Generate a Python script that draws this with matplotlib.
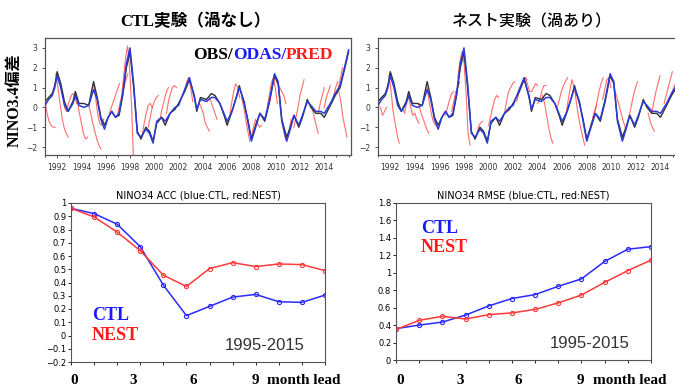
import matplotlib
matplotlib.use("Agg")
import matplotlib.pyplot as plt
import numpy as np

# ---- time series (top panels) ----
obs_year = [1991.0, 1991.3, 1991.6, 1991.8, 1992.0, 1992.3, 1992.6, 1992.9, 1993.3, 1993.5,
            1993.8, 1994.2, 1994.6, 1995.0, 1995.3, 1995.6, 1995.9, 1996.2, 1996.5, 1996.8,
            1997.1, 1997.4, 1997.7, 1998.0, 1998.3, 1998.6, 1998.9, 1999.3, 1999.6, 1999.9,
            2000.2, 2000.6, 2000.9, 2001.3, 2001.7, 2002.0, 2002.5, 2002.9, 2003.3, 2003.5,
            2003.8, 2004.3, 2004.7, 2005.0, 2005.4, 2005.8, 2006.0, 2006.4, 2006.8, 2007.0,
            2007.4, 2007.7, 2008.0, 2008.4, 2008.7, 2009.1, 2009.5, 2009.9, 2010.2, 2010.5,
            2010.9, 2011.2, 2011.5, 2011.9, 2012.2, 2012.6, 2012.9, 2013.3, 2013.7, 2014.0,
            2014.5, 2014.9, 2015.3, 2015.7, 2016.0]
obs_val = [0.3, 0.5, 0.7, 1.1, 1.8, 1.2, 0.3, -0.2, 0.3, 0.8,
           0.2, 0.2, 0.1, 1.3, 0.5, -0.5, -0.9, -0.5, -0.2, -0.5,
           -0.4, 0.6, 2.0, 2.8, 1.0, -1.2, -1.6, -1.0, -1.2, -1.7,
           -0.8, -0.5, -0.9, -0.3, -0.1, 0.2, 0.8, 1.4, 0.6, -0.2,
           0.5, 0.4, 0.7, 0.6, 0.2, -0.5, -0.9, -0.2, 0.6, 1.1,
           0.2, -0.6, -1.6, -0.8, -0.3, -0.7, 0.3, 1.6, 1.2, -0.6,
           -1.5, -1.0, -0.4, -1.0, -0.5, 0.4, 0.0, -0.3, -0.3, -0.5,
           0.1, 0.6, 1.0, 2.0, 2.8]
odas_val = [0.1, 0.4, 0.6, 1.0, 1.6, 1.0, 0.1, -0.2, 0.2, 0.6,
            0.1, 0.0, 0.1, 0.9, 0.4, -0.6, -1.1, -0.5, -0.2, -0.5,
            -0.3, 0.7, 2.2, 3.0, 1.2, -1.3, -1.5, -1.1, -1.3, -1.8,
            -0.7, -0.5, -0.7, -0.3, 0.0, 0.1, 0.9, 1.5, 0.5, -0.1,
            0.4, 0.3, 0.5, 0.5, 0.2, -0.4, -0.7, -0.2, 0.6, 1.0,
            0.3, -0.7, -1.7, -0.9, -0.3, -0.6, 0.4, 1.7, 1.3, -0.7,
            -1.7, -1.1, -0.4, -0.9, -0.4, 0.3, 0.1, -0.2, -0.2, -0.3,
            0.2, 0.7, 1.1, 2.1, 2.9]

# forecast segments: (start year, values every 2 months)
pred_ctl = [
    (1991.0, [0.3, -0.3, -0.7, -0.9, -1.0, -1.0]),
    (1991.9, [1.7, 1.0, 0.2, -0.5, -1.0, -1.3, -1.5]),
    (1992.6, [0.0, -0.2, 0.2, 0.5, 0.7, 0.6, 0.2]),
    (1993.5, [0.8, 0.3, -0.3, -0.8, -1.3, -1.6, -1.5]),
    (1994.6, [0.1, -0.3, -0.8, -1.2, -1.6, -1.9, -2.1]),
    (1995.0, [1.2, 0.5, -0.3, -0.8, -0.9, -0.6]),
    (1996.3, [-0.3, 0.0, 0.3, 0.6, 0.9, 1.2]),
    (1997.0, [-0.3, 0.2, 0.6, 1.0, 1.4, 1.7]),
    (1997.3, [0.5, 1.5, 2.5, 3.1, 2.0, 0.0, -2.8]),
    (1999.0, [-1.4, -0.8, -0.3, 0.1, 0.2, 0.0]),
    (1999.5, [-1.0, -0.5, 0.0, 0.3, 0.5, 0.6]),
    (2000.5, [-0.5, 0.0, 0.4, 0.8, 1.0]),
    (2001.0, [-0.3, 0.3, 0.7, 1.0, 1.1, 1.0]),
    (2002.5, [0.8, 1.3, 1.5, 1.0, 0.3]),
    (2003.7, [0.2, 0.0, -0.3, -0.8, -1.0, -1.2]),
    (2004.5, [0.5, 0.3, 0.0, -0.3, -0.6]),
    (2006.2, [-0.5, 0.2, 0.8, 1.2, 1.0, 0.5]),
    (2007.2, [0.5, 0.0, -0.6, -1.2, -1.7]),
    (2008.0, [-1.5, -1.0, -0.6, -0.8, -1.0, -0.9]),
    (2009.3, [0.0, 0.6, 1.2, 1.5, 1.0, 0.2]),
    (2010.0, [1.4, 1.2, 1.0, 0.8, 0.6, 0.2]),
    (2010.6, [-1.0, -1.5, -1.7, -1.2, -0.6]),
    (2011.5, [-1.0, -0.5, 0.0, 0.6, 1.0, 1.4]),
    (2013.0, [0.0, -0.5, -0.9, -1.3]),
    (2013.5, [-0.3, 0.2, 0.6, 1.0]),
    (2014.0, [0.0, 0.5, 0.8, 1.1]),
    (2014.6, [0.2, 0.6, 1.0, 1.3]),
    (2015.0, [0.7, 1.0, 1.5, 2.0]),
    (2015.2, [0.8, 0.3, -0.5, -1.0, -1.5]),
]
pred_nest = [
    (1991.2, [0.0, -0.4, -0.2, 0.0]),
    (1991.9, [1.6, 0.8, -0.2, -0.8, -1.4, -1.8]),
    (1993.0, [0.0, -0.3, 0.3, 0.6, 0.4]),
    (1993.5, [0.5, 0.0, -0.4, -0.3, -0.6, -0.8]),
    (1994.3, [0.2, -0.2, -0.5, -0.8, -1.1, -1.3]),
    (1995.0, [1.0, 0.3, -0.3, -0.7, -0.9]),
    (1996.5, [-0.4, 0.0, 0.4, 0.7, 0.8]),
    (1997.0, [-0.2, 0.3, 0.8, 1.0, 1.3]),
    (1997.5, [1.5, 2.3, 2.8, 2.3, 0.8, -1.3, -1.9]),
    (1999.0, [-1.5, -1.0, -0.8, -0.7]),
    (2000.0, [-0.9, -0.5, 0.0, 0.4, 0.6, 0.5]),
    (2001.3, [-0.3, 0.3, 0.8, 1.0, 1.2, 1.3]),
    (2002.3, [0.3, 0.7, 1.0, 1.3, 1.5, 1.4]),
    (2003.0, [1.5, 1.2, 0.8, 0.8, 1.0, 1.2, 1.1]),
    (2004.0, [0.2, 0.4, 0.8, 1.1, 1.1]),
    (2004.4, [0.6, 0.2, -0.4, -1.0, -1.5, -1.8]),
    (2005.6, [0.0, 0.4, 0.8, 1.1, 1.3, 1.5]),
    (2006.3, [-0.4, 0.3, 0.9, 1.4, 1.0, 0.6]),
    (2007.0, [1.0, 0.2, -0.5, -1.0, -1.5, -1.9]),
    (2008.3, [-1.0, -0.6, -0.2, 0.1]),
    (2008.5, [-0.5, -0.2, 0.3, 0.8, 1.2, 1.5]),
    (2009.3, [0.4, 0.9, 1.4, 1.5, 1.0]),
    (2010.3, [0.8, 0.5, 0.1, -0.3, -0.7, -1.0]),
    (2011.3, [-0.8, -0.4, 0.1, 0.6, 1.0, 1.3]),
    (2013.0, [-0.3, -0.7, -1.0, -1.2]),
    (2013.3, [-0.3, 0.3, 0.8, 1.2, 1.6]),
    (2014.3, [0.2, 0.6, 1.0, 1.4, 1.8]),
    (2014.8, [0.5, 0.8, 1.1, 1.3]),
]

# ---- skill scores (bottom panels) ----
lead = list(range(12))
acc_ctl = [0.96, 0.92, 0.84, 0.67, 0.38, 0.15, 0.22, 0.29, 0.31, 0.255, 0.25, 0.305]
acc_nest = [0.96, 0.895, 0.78, 0.64, 0.455, 0.37, 0.505, 0.55, 0.52, 0.54, 0.535, 0.49]
rmse_ctl = [0.36, 0.40, 0.435, 0.515, 0.62, 0.705, 0.75, 0.845, 0.93, 1.13, 1.27, 1.30]
rmse_nest = [0.35, 0.455, 0.50, 0.47, 0.52, 0.54, 0.58, 0.655, 0.745, 0.89, 1.025, 1.145]

legend_words = ['OBS/', 'ODAS/', 'PRED']
legend_colors = ['black', '#1a1aff', '#ff1a1a']

serif_jp = ['Liberation Serif', 'Noto Sans CJK JP']
W, H = 675, 387

fig = plt.figure(figsize=(6.75, 3.87), dpi=100)


def ax_at(x0, y0, x1, y1):
    return fig.add_axes([x0 / W, 1 - y1 / H, (x1 - x0) / W, (y1 - y0) / H])


def top_panel(ax, preds, xlim):
    for start, vals in preds:
        xs = [start + i / 6 for i in range(len(vals))]
        ax.plot(xs, vals, color='#ff3030', lw=0.8, alpha=0.7)
    ax.plot(obs_year, obs_val, color='#303030', lw=1.0)
    ax.plot(obs_year, odas_val, color='#2b3bd8', lw=1.1)
    ax.set_xlim(*xlim)
    ax.set_ylim(-2.4, 3.5)
    ax.set_xticks(range(1992, 2015, 2))
    ax.set_xticks(range(1991, 2017), minor=True)
    ax.set_yticks([-2, -1, 0, 1, 2, 3])
    ax.tick_params(labelsize=5.5, length=2, width=0.6, colors='#333333')
    ax.tick_params(which='minor', length=1.2, width=0.5)
    for s in ax.spines.values():
        s.set_color('#555555')
        s.set_linewidth(0.9)


ax1 = ax_at(45, 38, 351, 155)
top_panel(ax1, pred_ctl, (1991.0, 2016.2))
ax2 = ax_at(378, 38, 685, 155)
top_panel(ax2, pred_nest, (1991.2, 2016.0))

fig.text(195 / W, 1 - 22 / H, 'CTL実験（渦なし）', family=serif_jp, weight='bold',
         fontsize=12, ha='center', va='center')
fig.text(532 / W, 1 - 22 / H, 'ネスト実験（渦あり）', family='Noto Sans CJK JP',
         weight='medium', fontsize=11.5, ha='center', va='center')
fig.text(15 / W, 1 - 100 / H, 'NINO3.4偏差', family=serif_jp, weight='bold',
         fontsize=11.5, rotation=90, ha='center', va='center')

# multi-coloured OBS/ODAS/PRED label, laid out word after word
renderer = fig.canvas.get_renderer()
x = 193
for word, col in zip(legend_words, legend_colors):
    t = fig.text(x / W, 1 - 55 / H, word, family='Liberation Serif', weight='bold',
                 fontsize=12.5, color=col, ha='left', va='center')
    x += t.get_window_extent(renderer).width


def bottom_panel(ax, ctl, nest, title, ylim, yticks, ylabels):
    ax.plot(lead, ctl, color='#2a2aff', lw=1.1, marker='o', ms=3, mfc='none', mew=0.8)
    ax.plot(lead, nest, color='#ff3a3a', lw=1.1, marker='o', ms=3, mfc='none', mew=0.8)
    ax.set_xlim(0, 11)
    ax.set_ylim(*ylim)
    ax.set_xticks(lead)
    ax.set_xticklabels([])
    ax.set_yticks(yticks)
    ax.set_yticklabels(ylabels)
    ax.tick_params(labelsize=6, length=2, width=0.6, pad=1.5)
    ax.set_title(title, fontsize=7, pad=3, family='DejaVu Sans')
    for s in ax.spines.values():
        s.set_color('#555555')
        s.set_linewidth(0.8)


ax3 = ax_at(71, 203, 325, 362)
acc_ticks = [-0.2, -0.1, 0, 0.1, 0.2, 0.3, 0.4, 0.5, 0.6, 0.7, 0.8, 0.9, 1.0]
acc_labels = ['\u22120.2', '\u22120.1', '0', '0.1', '0.2', '0.3', '0.4', '0.5', '0.6',
              '0.7', '0.8', '0.9', '1']
bottom_panel(ax3, acc_ctl, acc_nest, 'NINO34 ACC (blue:CTL, red:NEST)',
             (-0.2, 1.0), acc_ticks, acc_labels)

ax4 = ax_at(396, 203, 651, 360)
rmse_ticks = [0, 0.2, 0.4, 0.6, 0.8, 1.0, 1.2, 1.4, 1.6, 1.8]
rmse_labels = ['0', '0.2', '0.4', '0.6', '0.8', '1', '1.2', '1.4', '1.6', '1.8']
bottom_panel(ax4, rmse_ctl, rmse_nest, 'NINO34 RMSE (blue:CTL, red:NEST)',
             (0, 1.8), rmse_ticks, rmse_labels)

# overlay annotations
fig.text(92 / W, 1 - 315 / H, 'CTL', family='Liberation Serif', weight='bold',
         fontsize=13, color='#1a1aff', ha='left', va='center')
fig.text(92 / W, 1 - 335 / H, 'NEST', family='Liberation Serif', weight='bold',
         fontsize=13, color='#ff1a1a', ha='left', va='center')
fig.text(421 / W, 1 - 228 / H, 'CTL', family='Liberation Serif', weight='bold',
         fontsize=13, color='#1a1aff', ha='left', va='center')
fig.text(421 / W, 1 - 248 / H, 'NEST', family='Liberation Serif', weight='bold',
         fontsize=13, color='#ff1a1a', ha='left', va='center')
fig.text(265 / W, 1 - 346 / H, '1995-2015', family='Liberation Sans',
         fontsize=12, color='#333333', ha='center', va='center')
fig.text(590 / W, 1 - 344 / H, '1995-2015', family='Liberation Sans',
         fontsize=12, color='#333333', ha='center', va='center')

for xs in [[74, 133, 193, 255, 267], [400, 460, 518, 580, 593]]:
    for xp, s in zip(xs[:4], ['0', '3', '6', '9']):
        fig.text(xp / W, 1 - 380 / H, s, family='Liberation Serif', weight='bold',
                 fontsize=11, ha='center', va='center')
    fig.text(xs[4] / W, 1 - 380 / H, 'month lead', family='Liberation Serif',
             weight='bold', fontsize=11, ha='left', va='center')

fig.savefig('out.png', dpi=100)
